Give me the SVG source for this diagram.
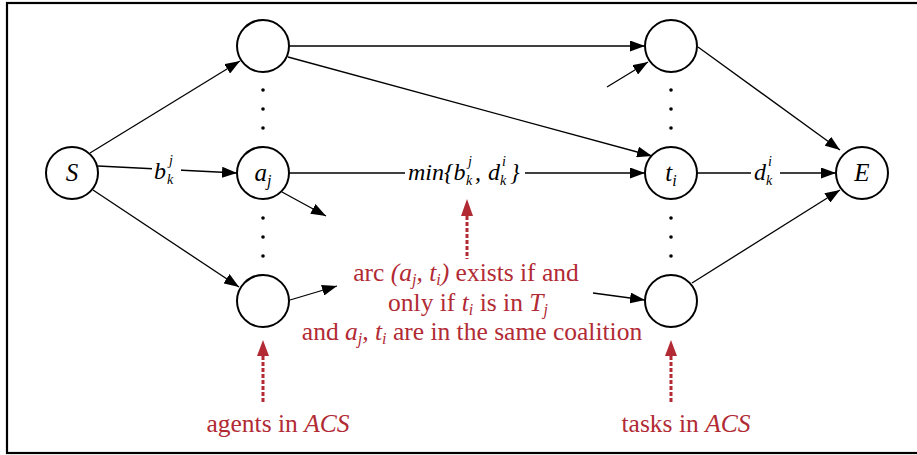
<svg xmlns="http://www.w3.org/2000/svg" width="917" height="455" viewBox="0 0 917 455" font-family="'Liberation Serif', 'DejaVu Serif', 'Times New Roman', serif">
<defs>
<marker id="ah" markerUnits="userSpaceOnUse" markerWidth="15" markerHeight="11" refX="15" refY="5.5" orient="auto">
<path d="M0,0 L15,5.5 L0,11 z" fill="#000"/>
</marker>
<style>
.node{fill:#fff;stroke:#000;stroke-width:2}
.e{fill:none;stroke:#000;stroke-width:1.3;marker-end:url(#ah)}
text{font-family:'Liberation Serif','DejaVu Serif','Times New Roman',serif}
.m{font-style:italic;font-size:25px;fill:#000}
.ml{font-style:italic;font-size:24px;fill:#000}
.s{font-style:italic;font-size:14px;fill:#000}
.r{font-size:25.5px;fill:#b12a34;text-anchor:middle}
.ri{font-style:italic}
.rd{fill:none;stroke:#b12a34;stroke-width:3;stroke-dasharray:4 2}
.dot{fill:#000}
</style>
</defs>
<rect x="7" y="3" width="920" height="450" fill="#fff" stroke="#000" stroke-width="2.2"/>
<g id="connectors">
<path class="e" d="M90,153 L240,61"/>
<path class="e" d="M98,166 L237,173"/>
<path class="e" d="M93,190 L239,287"/>
<path class="e" d="M289,46 L645,46"/>
<path class="e" d="M288,57 L652,156"/>
<path class="e" d="M289,173 L645,173"/>
<path class="e" d="M282,192 L326,216"/>
<path class="e" d="M290,300 L337,286"/>
<path class="e" d="M607,87 L648,62"/>
<path class="e" d="M593,293 L645,300"/>
<path class="e" d="M698,47 L840,150"/>
<path class="e" d="M697,173 L836,173"/>
<path class="e" d="M692,283 L840,190"/>
</g>
<g id="edge-labels">
<rect x="152" y="155" width="29" height="32" fill="#fff"/>
<text class="ml" x="154" y="179">b</text>
<text class="s" x="169" y="165">j</text>
<text class="s" x="167" y="184">k</text>
<rect x="405" y="155" width="120" height="32" fill="#fff"/>
<text class="ml" x="408" y="180">min{b</text>
<text class="s" x="468" y="166">j</text>
<text class="s" x="466" y="185">k</text>
<text class="ml" x="475" y="180">,</text>
<text class="ml" x="488" y="180">d</text>
<text class="s" x="502" y="166">i</text>
<text class="s" x="500" y="185">k</text>
<text class="ml" x="510" y="180">}</text>
<rect x="751" y="155" width="29" height="32" fill="#fff"/>
<text class="ml" x="754" y="180">d</text>
<text class="s" x="768" y="166">i</text>
<text class="s" x="766" y="185">k</text>
</g>
<g id="node-S"><circle class="node" cx="72" cy="173" r="26"/><text class="m" x="72" y="181" text-anchor="middle">S</text></g>
<g id="node-a1"><circle class="node" cx="263" cy="46" r="26"/></g>
<g id="node-aj"><circle class="node" cx="263" cy="173" r="26"/><text class="m" x="263" y="181" text-anchor="middle">a<tspan font-size="16" dy="5">j</tspan></text></g>
<g id="node-a3"><circle class="node" cx="263" cy="301" r="26"/></g>
<g id="node-t1"><circle class="node" cx="671" cy="46" r="26"/></g>
<g id="node-ti"><circle class="node" cx="671" cy="173" r="26"/><text class="m" x="671" y="181" text-anchor="middle">t<tspan font-size="16" dy="5">i</tspan></text></g>
<g id="node-t3"><circle class="node" cx="671" cy="301" r="26"/></g>
<g id="node-E"><circle class="node" cx="862" cy="173" r="26"/><text class="m" x="862" y="181" text-anchor="middle">E</text></g>
<g id="dots">
<circle class="dot" cx="263" cy="90" r="1.8"/><circle class="dot" cx="263" cy="109" r="1.8"/><circle class="dot" cx="263" cy="128" r="1.8"/>
<circle class="dot" cx="263" cy="218" r="1.8"/><circle class="dot" cx="263" cy="237" r="1.8"/><circle class="dot" cx="263" cy="256" r="1.8"/>
<circle class="dot" cx="671" cy="90" r="1.8"/><circle class="dot" cx="671" cy="109" r="1.8"/><circle class="dot" cx="671" cy="128" r="1.8"/>
<circle class="dot" cx="671" cy="218" r="1.8"/><circle class="dot" cx="671" cy="237" r="1.8"/><circle class="dot" cx="671" cy="256" r="1.8"/>
</g>
<g id="annotations">
<polygon points="467,199 461,216 473,216" fill="#b12a34"/>
<path class="rd" d="M467,216 L467,259"/>
<polygon points="263,340 257,356 269,356" fill="#b12a34"/>
<path class="rd" d="M263,356 L263,403"/>
<polygon points="671,340 665,356 677,356" fill="#b12a34"/>
<path class="rd" d="M671,356 L671,403"/>
<text class="r" x="466" y="281">arc <tspan class="ri">(a</tspan><tspan class="ri" font-size="16" dy="4">j</tspan><tspan class="ri" dy="-4">, t</tspan><tspan class="ri" font-size="16" dy="4">i</tspan><tspan class="ri" dy="-4">)</tspan> exists if and</text>
<text class="r" x="468" y="311">only if <tspan class="ri">t</tspan><tspan class="ri" font-size="16" dy="4">i</tspan><tspan dy="-4"> is in </tspan><tspan class="ri">T</tspan><tspan class="ri" font-size="16" dy="4">j</tspan></text>
<text class="r" x="472" y="340">and <tspan class="ri">a</tspan><tspan class="ri" font-size="16" dy="4">j</tspan><tspan class="ri" dy="-4">, t</tspan><tspan class="ri" font-size="16" dy="4">i</tspan><tspan dy="-4"> are in the same coalition</tspan></text>
<text class="r" x="278" y="432">agents in <tspan class="ri">ACS</tspan></text>
<text class="r" x="686" y="432">tasks in <tspan class="ri">ACS</tspan></text>
</g>
</svg>
